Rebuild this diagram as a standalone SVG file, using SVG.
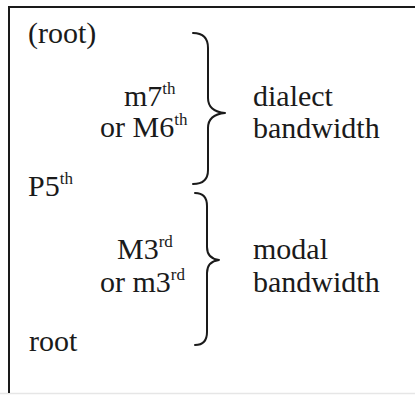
<svg xmlns="http://www.w3.org/2000/svg" width="415" height="395" viewBox="0 0 415 395">
  <style>
    text { font-family: "Liberation Serif", "DejaVu Serif", serif; font-size: 30px; fill: #1a1a1a; }
    .sup { font-size: 17px; }
    .frame { stroke: #1a1a1a; stroke-width: 2; fill: none; }
    .brace { stroke: #1a1a1a; stroke-width: 2; fill: none; stroke-linecap: round; stroke-linejoin: round; }
  </style>
  <rect x="0" y="0" width="415" height="395" fill="#ffffff"/>

  <!-- frame: top and left rules, faint bottom edge -->
  <g id="frame">
    <line x1="0" y1="393.5" x2="415" y2="393.5" stroke="#e6e6e6" stroke-width="1.5"/>
    <path class="frame" d="M415,7 L9,7 L9,393"/>
  </g>

  <!-- interval braces -->
  <g id="connectors">
    <path class="brace" d="M193,33 C203,33 208,38 208,48 L208,98 C208,107 214,112 225,113 C214,114 208,119 208,128 L208,170 C208,180 203,184 193,184"/>
    <path class="brace" d="M195,193 C203,193 207,197 207,206 L207,247 C207,255 211,259 219,260 C211,261 207,265 207,273 L207,332 C207,341 203,345 195,345"/>
  </g>

  <!-- scale degrees -->
  <g id="root-octave"><text x="28" y="43">(root)</text></g>
  <g id="fifth"><text x="28" y="196">P5<tspan class="sup" dy="-12">th</tspan></text></g>
  <g id="root"><text x="29" y="351">root</text></g>

  <!-- intervals -->
  <g id="upper-interval">
    <text x="124" y="106">m7<tspan class="sup" dy="-12">th</tspan></text>
    <text x="100" y="137">or M6<tspan class="sup" dy="-12">th</tspan></text>
  </g>
  <g id="lower-interval">
    <text x="117" y="259">M3<tspan class="sup" dy="-12">rd</tspan></text>
    <text x="100" y="292">or m3<tspan class="sup" dy="-12">rd</tspan></text>
  </g>

  <!-- bandwidth labels -->
  <g id="dialect-bandwidth">
    <text x="253" y="106">dialect</text>
    <text x="253" y="138">bandwidth</text>
  </g>
  <g id="modal-bandwidth">
    <text x="253" y="259">modal</text>
    <text x="253" y="292">bandwidth</text>
  </g>
</svg>
